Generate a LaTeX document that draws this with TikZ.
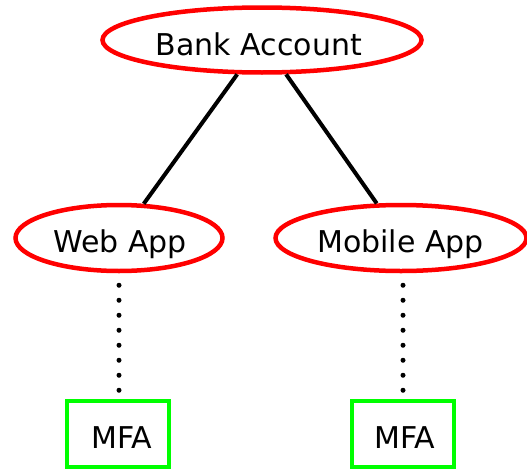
\documentclass[tikz,border=0pt]{standalone}
\usepackage{fontspec}
\setmainfont{DejaVu Sans}
\usetikzlibrary{shapes.geometric}
\begin{document}
\begin{tikzpicture}[x=1pt,y=-1pt,
  oval/.style={ellipse, draw={rgb,255:red,255;green,0;blue,0}, line width=4.5pt, inner sep=0pt},
  mfabox/.style={rectangle, draw={rgb,255:red,0;green,255;blue,0}, line width=4.5pt, inner sep=0pt, minimum width=102pt, minimum height=66pt},
  lbl/.style={anchor=base, inner sep=0pt, font=\fontsize{30}{36}\selectfont},
  solidedge/.style={line width=4pt},
  dotedge/.style={line width=5pt, line cap=round, dash pattern=on 0pt off 15pt}]
\useasboundingbox (0,0) rectangle (527,471);
\node[oval, minimum width=319pt, minimum height=65pt] (bank) at (262,40) {};
\node[oval, minimum width=207pt, minimum height=66pt] (web) at (119,238) {};
\node[oval, minimum width=251pt, minimum height=66pt] (mobile) at (401,238) {};
\node[mfabox] (mfa1) at (118,434) {};
\node[mfabox] (mfa2) at (403,434) {};
\node[lbl] (banktxt) at (259,55) {Bank Account};
\node[lbl] (webtxt) at (120,252) {Web App};
\node[lbl] (mobiletxt) at (400.5,252) {Mobile App};
\node[lbl] (mfa1txt) at (122,448) {MFA};
\node[lbl] (mfa2txt) at (405,448) {MFA};
\draw[solidedge] (bank) -- (web);
\draw[solidedge] (bank) -- (mobile);
\draw[dotedge, shorten <=12pt, shorten >=8pt] (web.south) -- (mfa1.north -| web.south);
\draw[dotedge, shorten <=12pt, shorten >=8pt] (mobile.south -| mfa2.north) -- (mfa2.north);
\end{tikzpicture}
\end{document}
